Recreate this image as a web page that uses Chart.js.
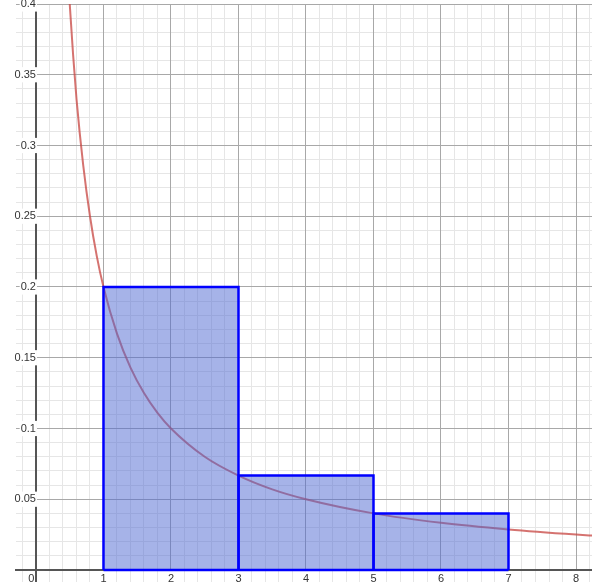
<!DOCTYPE html>
<html>
<head>
<meta charset="utf-8">
<script src="https://cdn.jsdelivr.net/npm/chart.js@4"></script>
<style>
  html, body { margin: 0; padding: 0; background: #fff; overflow: hidden; }
  canvas { display: block; }
</style>
</head>
<body>
<canvas id="myChart" width="592" height="582"></canvas>
<script>
// tick labels
const xTicks = [0, 1, 2, 3, 4, 5, 6, 7, 8];
const yTicks = [0.05, 0.1, 0.15, 0.2, 0.25, 0.3, 0.35, 0.4];

// histogram bins (edges + heights)
const binEdges = [1, 3, 5, 7];
const binHeights = [0.2, 0.0667, 0.04];

// curve, points
const curveX = [0.45, 0.5, 0.55, 0.6, 0.7, 0.8, 0.9, 1, 1.2, 1.4, 1.6, 1.8, 2, 2.5, 3, 3.5, 4, 5, 6, 7, 8, 8.3];
const curveY = [0.444, 0.4, 0.364, 0.333, 0.286, 0.25, 0.222, 0.2, 0.167, 0.143, 0.125, 0.111, 0.1, 0.08, 0.0667, 0.057, 0.05, 0.04, 0.0333, 0.0286, 0.025, 0.0241];

const ctx = document.getElementById('myChart');

let datasets = [];
for (let i = 0; i < binHeights.length; i++) {
    const a = binEdges[i], b = binEdges[i + 1], h = binHeights[i];
    datasets.push({
        type: 'line',
        data: [{x: a, y: 0}, {x: a, y: h}, {x: b, y: h}, {x: b, y: 0}],
        borderColor: '#0000ff',
        borderWidth: 2.5,
        backgroundColor: 'rgba(77,103,209,0.5)',
        fill: 'origin',
        pointRadius: 0,
        tension: 0,
        order: 1
    });
}
// bottom edge of the bars
datasets.push({
    type: 'line',
    data: [{x: binEdges[0], y: 0}, {x: binEdges[binEdges.length - 1], y: 0}],
    borderColor: '#0000ff',
    borderWidth: 2.5,
    fill: false,
    pointRadius: 0,
    order: 0
});
datasets.push({
    type: 'line',
    data: curveX.map((x, i) => ({x: x, y: curveY[i]})),
    borderColor: 'rgba(199,68,64,0.75)',
    borderWidth: 2,
    fill: false,
    pointRadius: 0,
    cubicInterpolationMode: 'monotone',
    order: 2
});

const labelFont = {family: 'Liberation Sans', size: 11};
// axes sit inside the plot, so they should not take any room from it
const noRoom = (scale) => {
    if (scale.isHorizontal()) scale.height = 0; else scale.width = 0;
    scale.paddingTop = 0; scale.paddingBottom = 0;
    scale.paddingLeft = 0; scale.paddingRight = 0;
};

const chart = new Chart(ctx, {
    type: 'scatter',
    data: {datasets: datasets},
    options: {
        responsive: false,
        animation: false,
        layout: {autoPadding: false, padding: {left: 16, top: 4, right: 0, bottom: 0}},
        plugins: {legend: {display: false}, tooltip: {enabled: false}},
        scales: {
            xMinor: {
                type: 'linear', axis: 'x', position: {y: 0},
                min: -0.296, max: 8.237,
                afterFit: noRoom,
                ticks: {display: false, stepSize: 0.2, includeBounds: false},
                grid: {color: '#e6e6e6', lineWidth: 1, drawTicks: false},
                border: {display: false}
            },
            yMinor: {
                type: 'linear', axis: 'y', position: {x: 0},
                min: -0.0085, max: 0.4,
                afterFit: noRoom,
                ticks: {display: false, stepSize: 0.01, includeBounds: false},
                grid: {color: '#e6e6e6', lineWidth: 1, drawTicks: false},
                border: {display: false}
            },
            x: {
                type: 'linear', position: {y: 0},
                min: -0.296, max: 8.237,
                afterFit: noRoom,
                afterBuildTicks: (scale) => { scale.ticks = xTicks.map(v => ({value: v})); },
                ticks: {
                    font: labelFont, color: '#333', padding: 2,
                    callback: (v) => v === 0 ? '0   ' : String(v),
                    showLabelBackdrop: true, backdropColor: '#fff', backdropPadding: 1,
                    maxRotation: 0, autoSkip: false
                },
                grid: {color: '#a8a8a8', lineWidth: 1, drawTicks: false},
                border: {display: true, color: '#555', width: 2}
            },
            y: {
                type: 'linear', position: {x: 0},
                min: -0.0085, max: 0.4,
                afterFit: noRoom,
                afterBuildTicks: (scale) => { scale.ticks = yTicks.map(v => ({value: v})); },
                ticks: {
                    font: labelFont, color: '#333', padding: 3,
                    callback: (v) => String(v),
                    showLabelBackdrop: true, backdropColor: '#fff', backdropPadding: 1,
                    autoSkip: false
                },
                grid: {color: '#a8a8a8', lineWidth: 1, drawTicks: false},
                border: {display: true, color: '#555', width: 2}
            }
        }
    }
});
</script>
</body>
</html>
